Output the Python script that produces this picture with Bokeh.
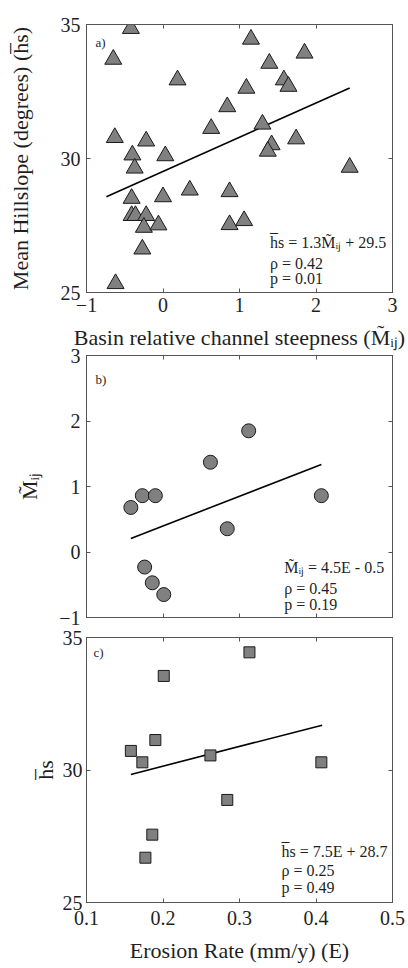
from bokeh.plotting import figure
from bokeh.layouts import column
from bokeh.models import Range1d, LinearAxis, FixedTicker, Label
from bokeh.embed import file_html
from bokeh.resources import INLINE

# ---------------- data ----------------
# panel a: basin relative channel steepness vs mean hillslope
ksn_a = [-0.42, -0.65, 1.15, 1.85, 1.39, 0.19, 1.58, 1.64, 1.09, 0.84, 0.63, 1.30,
         -0.63, -0.22, 1.74, 1.42, 1.37, -0.40, 0.03, -0.37, 2.44, 0.35, 0.87, -0.41,
         0.00, -0.41, -0.36, -0.22, -0.25, -0.06, 0.87, 1.06, -0.27, -0.62]
hs_a = [34.85, 33.70, 34.45, 33.93, 33.55, 32.93, 32.93, 32.69, 32.62, 31.93, 31.12, 31.28,
        30.78, 30.65, 30.73, 30.51, 30.27, 30.13, 30.10, 29.64, 29.67, 28.82, 28.76, 28.51,
        28.57, 27.87, 27.87, 27.87, 27.43, 27.52, 27.53, 27.68, 26.62, 25.33]
fit_a_x = [-0.74, 2.44]
fit_a_slope, fit_a_icpt = 1.276, 29.52

# panel b: erosion rate vs channel steepness
E_b = [0.158, 0.173, 0.190, 0.262, 0.312, 0.284, 0.407, 0.176, 0.186, 0.201]
ksn_b = [0.68, 0.86, 0.86, 1.37, 1.85, 0.355, 0.86, -0.23, -0.47, -0.65]
fit_b_x = [0.158, 0.407]
fit_b_slope, fit_b_icpt = 4.53, -0.508

# panel c: erosion rate vs mean hillslope
E_c = [0.158, 0.173, 0.190, 0.201, 0.313, 0.262, 0.284, 0.407, 0.186, 0.177]
hs_c = [30.72, 30.29, 31.13, 33.55, 34.44, 30.55, 28.87, 30.29, 27.56, 26.69]
fit_c_x = [0.158, 0.408]
fit_c_slope, fit_c_icpt = 7.43, 28.66

ticks_a_x = [-1, 0, 1, 2, 3]
ticks_hs = [25, 30, 35]
ticks_ksn = [-1, 0, 1, 2, 3]
ticks_E = [0.1, 0.2, 0.3, 0.4, 0.5]

# ---------------- style ----------------
FONT = "Liberation Serif"
FRAME = "#555555"
TXT = "#1f1f1f"
FILL = "#808080"
EDGE = "#1a1a1a"

HS = "h\u0305s"
MIJ = "M\u0303\u1d62\u2c7c"


def style_axis(ax, ticks, show_labels=True):
    ax.ticker = FixedTicker(ticks=ticks)
    ax.major_tick_in = 4
    ax.major_tick_out = 0
    ax.minor_tick_line_color = None
    ax.axis_line_color = FRAME
    ax.major_tick_line_color = FRAME
    ax.major_label_text_font = FONT
    ax.major_label_text_font_size = "20px"
    ax.major_label_text_color = TXT
    ax.major_label_standoff = 6
    ax.axis_label_text_font = FONT
    ax.axis_label_text_font_size = "22px"
    ax.axis_label_text_font_style = "normal"
    ax.axis_label_text_color = TXT
    if not show_labels:
        ax.major_label_text_font_size = "1px"
        ax.major_label_text_color = None
        ax.major_label_standoff = 0


def make_fig(height, xr, yr, left, right, top, bottom):
    p = figure(width=408, height=height, x_range=Range1d(*xr), y_range=Range1d(*yr),
               output_backend="svg", toolbar_location=None,
               min_border_left=left, min_border_right=right,
               min_border_top=top, min_border_bottom=bottom)
    p.xgrid.visible = False
    p.ygrid.visible = False
    p.outline_line_color = FRAME
    p.outline_line_width = 1
    p.background_fill_color = "white"
    p.border_fill_color = "white"
    return p


def note(p, x, y, text, size="16px"):
    p.add_layout(Label(x=x, y=y, text=text, text_font=FONT, text_font_size=size,
                       text_color=TXT, text_baseline="alphabetic", text_align="left"))


# ---------------- panel a ----------------
pa = make_fig(321, (-1, 3), (25, 35), 84, 16, 24, 29)
style_axis(pa.xaxis[0], ticks_a_x)
style_axis(pa.yaxis[0], ticks_hs)
pa.xaxis[0].major_label_standoff = 5
pa.yaxis[0].axis_label = "Mean Hillslope (degrees) (" + HS + ")"
pa.yaxis[0].axis_label_standoff = 25
top_a = LinearAxis(); style_axis(top_a, ticks_a_x, False); pa.add_layout(top_a, "above")
right_a = LinearAxis(); style_axis(right_a, ticks_hs, False); pa.add_layout(right_a, "right")

pa.line(fit_a_x, [fit_a_slope * v + fit_a_icpt for v in fit_a_x], line_color="black", line_width=1.6)
pa.scatter(ksn_a, hs_a, marker="triangle", size=17, fill_color=FILL, line_color=EDGE, line_width=1)
note(pa, -0.883, 34.33, "a)", "13px")
note(pa, 1.40, 26.88, HS + " = 1.3" + MIJ + " + 29.5")
note(pa, 1.40, 26.09, "\u03c1 = 0.42")
note(pa, 1.40, 25.52, "p =  0.01")

# ---------------- panel b ----------------
pb = make_fig(309, (0.1, 0.5), (-1, 3), 84, 16, 31, 13)
style_axis(pb.xaxis[0], ticks_E, False)
style_axis(pb.yaxis[0], ticks_ksn)
pb.yaxis[0].axis_label = MIJ
pb.yaxis[0].axis_label_standoff = 14
top_b = LinearAxis(); style_axis(top_b, ticks_E, False)
top_b.axis_label = "Basin relative channel steepness (" + MIJ + ")"
top_b.axis_label_standoff = 6
pb.add_layout(top_b, "above")
right_b = LinearAxis(); style_axis(right_b, ticks_ksn, False); pb.add_layout(right_b, "right")

pb.line(fit_b_x, [fit_b_slope * v + fit_b_icpt for v in fit_b_x], line_color="black", line_width=1.6)
pb.scatter(E_b, ksn_b, marker="circle", size=14, fill_color=FILL, line_color=EDGE, line_width=1)
note(pb, 0.1117, 2.628, "b)", "13px")
note(pb, 0.3584, -0.244, MIJ + " = 4.5E - 0.5")
note(pb, 0.3584, -0.557, "\u03c1 = 0.45")
note(pb, 0.3584, -0.805, "p = 0.19")

# ---------------- panel c ----------------
pc = make_fig(338, (0.1, 0.5), (25, 35), 86, 15, 7, 66)
style_axis(pc.xaxis[0], ticks_E)
style_axis(pc.yaxis[0], ticks_hs)
pc.xaxis[0].major_label_standoff = 8
pc.xaxis[0].axis_label = "Erosion Rate (mm/y) (E)"
pc.xaxis[0].axis_label_standoff = 10
pc.yaxis[0].major_label_standoff = 4
pc.yaxis[0].axis_label = HS
pc.yaxis[0].axis_label_standoff = 2
top_c = LinearAxis(); style_axis(top_c, ticks_E, False); pc.add_layout(top_c, "above")
right_c = LinearAxis(); style_axis(right_c, ticks_hs, False); pc.add_layout(right_c, "right")

pc.line(fit_c_x, [fit_c_slope * v + fit_c_icpt for v in fit_c_x], line_color="black", line_width=1.6)
pc.scatter(E_c, hs_c, marker="square", size=11, fill_color=FILL, line_color=EDGE, line_width=1)
note(pc, 0.109, 34.44, "c)", "13px")
note(pc, 0.355, 26.94, HS + " = 7.5E + 28.7")
note(pc, 0.355, 26.22, "\u03c1 = 0.25")
note(pc, 0.355, 25.57, "p = 0.49")

layout = column(pa, pb, pc, spacing=0)
open("out.html", "w").write(file_html(layout, INLINE))
